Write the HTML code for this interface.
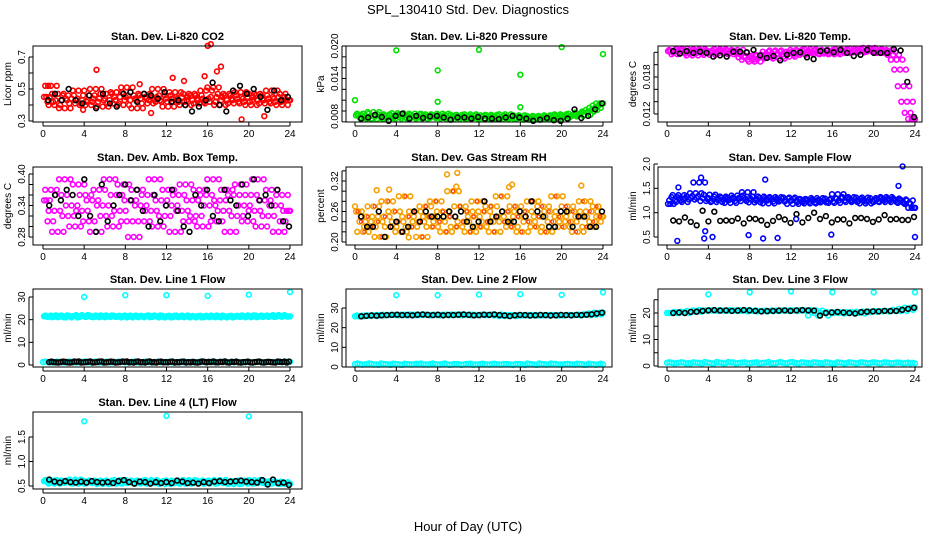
<!DOCTYPE html>
<html><head><meta charset="utf-8"><style>
body{margin:0;background:#fff}
svg{display:block;font-family:"Liberation Sans",sans-serif}
</style></head><body>
<svg id="chart" width="936" height="540" viewBox="0 0 936 540" xmlns="http://www.w3.org/2000/svg">
<rect width="936" height="540" fill="#fff"/>
<text x="468" y="14" font-size="13" text-anchor="middle">SPL_130410  Std. Dev. Diagnostics</text>
<text x="468" y="531" font-size="13" text-anchor="middle">Hour of Day (UTC)</text>
<g id="plots"></g>
</svg>
<script>
// ---- data ----
const xTicks=[0,4,8,12,16,20,24];
const co2Red=[0.45,0.42,0.52,0.40,0.47,0.43,0.38,0.46,0.44,0.41,0.49,0.43,0.40,0.46,0.42,0.50,0.44,0.39,0.47,0.43,0.41,0.48,0.45,0.40,0.51,0.43,0.46,0.38,0.44,0.47,0.41,0.45,0.43,0.50,0.42,0.46,0.39,0.44,0.48,0.42,0.45,0.40,0.47,0.43,0.46,0.41,0.44,0.49,0.42,0.51,0.45,0.40,0.47,0.43,0.46,0.41,0.44,0.48,0.42,0.45,0.40,0.47,0.43,0.46,0.41,0.44,0.49,0.42,0.45,0.40,0.47,0.43];
const co2Black=[0.43,0.47,0.43,0.50,0.43,0.41,0.46,0.38,0.47,0.41,0.39,0.47,0.48,0.42,0.47,0.46,0.44,0.48,0.42,0.43,0.40,0.36,0.39,0.43,0.54,0.40,0.36,0.49,0.52,0.47,0.50,0.45,0.37,0.49,0.43,0.45];
const co2OutX=[0.5,3.9,5.2,9.4,10.5,12.6,13.7,15.7,16.0,16.3,16.9,17.3,21.5,19.3];
const co2OutY=[0.52,0.37,0.62,0.53,0.35,0.57,0.55,0.58,0.77,0.78,0.61,0.64,0.33,0.31];
const presGreen=[0.0072,0.0068,0.0075,0.0066,0.0070,0.0078,0.0065,0.0071,0.0074,0.0067,0.0072,0.0069,0.0076,0.0066,0.0073,0.0070,0.0068,0.0075,0.0071,0.0066,0.0074,0.0069,0.0072,0.0067,0.0070,0.0075,0.0066,0.0072,0.0069,0.0073,0.0065,0.0071,0.0068,0.0074,0.0067,0.0070,0.0072,0.0065,0.0069,0.0073,0.0066,0.0071,0.0068,0.0074,0.0065,0.0070,0.0067,0.0072,0.0066,0.0069,0.0064,0.0071,0.0067,0.0070,0.0065,0.0068,0.0072,0.0066,0.0070,0.0074,0.0068,0.0072,0.0070,0.0075,0.0071,0.0077,0.0073,0.0079,0.0082,0.0086,0.0090,0.0094];
const presBlack=[0.0066,0.0068,0.0073,0.0069,0.0062,0.0071,0.0075,0.0066,0.0071,0.0067,0.0070,0.0071,0.0068,0.0064,0.0068,0.0068,0.0066,0.0069,0.0066,0.0066,0.0065,0.0068,0.0071,0.0068,0.0066,0.0062,0.0064,0.0067,0.0063,0.0062,0.0066,0.0083,0.0067,0.0071,0.0083,0.0094];
const presOutX=[0,4,8,8,12,16,16,20,24];
const presOutY=[0.0100,0.0192,0.0155,0.0097,0.0193,0.0147,0.0087,0.0198,0.0185];
const tempMag=[0.0222,0.0217,0.0224,0.0220,0.0226,0.0218,0.0223,0.0215,0.0221,0.0225,0.0219,0.0223,0.0216,0.0222,0.0220,0.0225,0.0218,0.0223,0.0221,0.0217,0.0224,0.0220,0.0212,0.0208,0.0214,0.0205,0.0210,0.0216,0.0212,0.0221,0.0218,0.0223,0.0210,0.0217,0.0221,0.0213,0.0219,0.0224,0.0216,0.0222,0.0219,0.0225,0.0217,0.0221,0.0223,0.0218,0.0224,0.0220,0.0217,0.0222,0.0225,0.0219,0.0223,0.0221,0.0226,0.0220,0.0224,0.0222,0.0227,0.0221,0.0225,0.0223,0.0219,0.0224,0.0221,0.0216,0.0208,0.0192,0.0165,0.0140,0.0122,0.0112];
const tempBlack=[0.0222,0.0218,0.0222,0.0219,0.0221,0.0219,0.0213,0.0215,0.0213,0.0221,0.0221,0.0220,0.0224,0.0215,0.0211,0.0214,0.0207,0.0216,0.0219,0.0220,0.0212,0.0209,0.0222,0.0223,0.0220,0.0224,0.0219,0.0214,0.0216,0.0224,0.0219,0.0219,0.0219,0.0225,0.0223,0.0172,0.0115];
const boxMag=[0.35,0.31,0.37,0.33,0.29,0.36,0.39,0.32,0.34,0.30,0.38,0.33,0.36,0.31,0.35,0.29,0.37,0.34,0.32,0.39,0.30,0.36,0.33,0.38,0.31,0.35,0.28,0.37,0.34,0.31,0.36,0.33,0.39,0.30,0.35,0.32,0.37,0.34,0.29,0.36,0.33,0.38,0.31,0.35,0.32,0.37,0.30,0.36,0.34,0.39,0.31,0.35,0.33,0.37,0.29,0.36,0.32,0.38,0.34,0.31,0.36,0.33,0.39,0.30,0.35,0.32,0.37,0.34,0.29,0.36,0.31,0.33];
const boxBlack=[0.34,0.36,0.35,0.37,0.36,0.32,0.39,0.32,0.29,0.38,0.31,0.34,0.36,0.38,0.35,0.37,0.33,0.30,0.36,0.31,0.34,0.37,0.33,0.30,0.29,0.36,0.34,0.37,0.32,0.31,0.37,0.35,0.34,0.38,0.32,0.39,0.35,0.36,0.34,0.37,0.31,0.30];
const rhOrange=[0.26,0.24,0.22,0.25,0.23,0.27,0.24,0.21,0.25,0.28,0.23,0.26,0.24,0.22,0.29,0.25,0.23,0.26,0.24,0.21,0.27,0.25,0.23,0.28,0.24,0.26,0.22,0.25,0.30,0.23,0.27,0.24,0.26,0.22,0.25,0.28,0.23,0.26,0.24,0.27,0.22,0.25,0.29,0.24,0.26,0.23,0.27,0.25,0.22,0.26,0.24,0.28,0.23,0.25,0.27,0.22,0.26,0.24,0.29,0.25,0.23,0.27,0.24,0.26,0.22,0.25,0.28,0.23,0.26,0.24,0.27,0.25];
const rhBlack=[0.25,0.23,0.23,0.26,0.21,0.23,0.24,0.22,0.23,0.26,0.24,0.26,0.25,0.25,0.25,0.26,0.25,0.26,0.24,0.23,0.24,0.28,0.24,0.25,0.26,0.24,0.24,0.26,0.25,0.28,0.26,0.25,0.23,0.23,0.26,0.26,0.23,0.25,0.25,0.23,0.23,0.26];
const rhOutX=[8.9,9.9,9.8,2.1,14.9,15.2,21.9,0.0,5.2,3.3];
const rhOutY=[0.333,0.336,0.309,0.302,0.308,0.313,0.311,0.27,0.209,0.303];
const flowBlue=[1.18,1.32,1.25,1.36,1.22,1.30,1.27,1.34,1.40,1.62,1.30,1.24,1.37,1.28,1.22,1.33,1.26,1.31,1.20,1.29,1.35,1.24,1.30,1.42,1.27,1.21,1.33,1.25,1.30,1.19,1.27,1.32,1.23,1.29,1.25,1.31,1.18,1.24,1.28,1.22,1.27,1.19,1.25,1.30,1.21,1.26,1.23,1.29,1.20,1.38,1.30,1.25,1.32,1.22,1.28,1.24,1.31,1.19,1.26,1.23,1.30,1.22,1.27,1.32,1.25,1.29,1.22,1.27,1.20,1.25,1.18,1.10];
const flowBlack=[0.84,0.82,0.90,0.81,0.74,1.04,0.82,1.02,0.83,0.84,0.83,0.88,0.78,0.88,0.87,0.84,0.75,0.83,0.91,0.86,0.79,0.97,0.80,0.89,1.00,0.87,0.93,0.80,0.86,0.86,0.78,0.89,0.89,0.87,0.81,0.86,0.95,0.86,0.87,0.85,0.85,0.91];
const flowOutX=[1.0,1.1,3.3,3.6,3.7,4.4,9.3,9.5,10.7,7.9,15.9,22.8,22.4,24.0,12.5];
const flowOutY=[0.42,1.52,1.72,0.47,0.62,0.50,0.47,1.68,0.48,0.54,0.55,1.95,1.55,0.50,0.87];
const l1Cyan=[21.5,21.2,21.8,21.4,21.1,21.9,21.3,21.6,21.0,21.7,21.4,22.0,21.2,21.6,21.3,21.8,21.1,21.5,21.9,21.3,21.6,21.2,21.7,21.4,21.0,21.8,21.5,21.3,21.7,21.1,21.6,21.4,21.9,21.2,21.5,21.0,21.7,21.3,21.6,21.1,21.8,21.4,21.2,21.6,21.0,21.5,21.3,21.7,21.1,21.4,21.8,21.2,21.6,21.0,21.5,21.3,21.7,21.2,21.4,21.9,21.1,21.6,21.3,21.8,21.5,21.2,21.7,21.4,22.0,21.3,21.6,21.5];
const l1Low=[1.3,1.2,1.5,1.1,1.4,1.2,1.6,1.3,1.1,1.5,1.2,1.4,1.3,1.6,1.1,1.2,1.4,1.3,1.5,1.2,1.1,1.4,1.3,1.2,1.6,1.4,1.2,1.3,1.1,1.5,1.3,1.2,1.4,1.1,1.3,1.5];
const l1OutY=[30.0,30.8,30.8,30.5,31.0,32.2];
const outX=[4,8,12,16,20,24];
const l2Main=[25.8,26.0,26.2,26.1,26.3,26.4,26.5,26.6,26.4,26.5,26.3,26.6,26.7,26.5,26.4,26.6,26.3,26.5,26.4,26.6,26.7,26.5,26.3,26.4,26.6,26.5,26.7,26.4,26.2,25.9,26.3,26.5,26.4,26.2,26.3,26.5,26.4,26.2,26.3,26.5,26.4,26.3,26.5,26.4,26.6,26.8,27.2,27.6];
const l2Low=[1.5,1.2,1.8,1.3,1.6,1.1,1.4,1.7,1.2,1.5,1.3,1.8,1.2,1.4,1.6,1.1,1.5,1.3,1.7,1.2,1.4,1.6,1.3,1.5,1.1,1.4,1.8,1.2,1.5,1.3,1.6,1.2,1.4,1.7,1.1,1.3];
const l2OutY=[36.5,36.5,36.8,37.0,36.7,38.0];
const l3Main=[20.0,20.2,20.0,20.4,20.5,20.8,21.0,21.1,20.9,21.0,20.8,20.9,21.1,21.0,20.8,20.6,20.7,20.8,20.9,21.0,20.8,21.0,21.1,21.0,20.9,19.0,20.0,20.2,20.4,20.2,20.0,19.8,20.3,20.5,20.6,20.6,20.8,20.7,20.8,21.2,21.6,22.0];
const l3Low=[1.2,1.0,1.4,1.1,1.3,0.9,1.2,1.5,1.0,1.3,1.1,1.4,1.2,0.9,1.3,1.1,1.5,1.0,1.2,1.4,1.1,1.3,0.9,1.2,1.4,1.0,1.3,1.1,1.2,1.4,1.0,1.3,1.1,1.2,1.3,1.0];
const l3OutY=[27.0,27.8,28.2,27.8,27.8,27.8];
const l4Cyan=[0.60,0.57,0.62,0.55,0.59,0.61,0.56,0.60,0.58,0.63,0.55,0.59,0.57,0.61,0.56,0.60,0.58,0.54,0.61,0.57,0.59,0.55,0.62,0.58,0.56,0.60,0.57,0.61,0.55,0.59,0.58,0.62,0.56,0.60,0.57,0.54,0.59,0.61,0.56,0.58,0.60,0.55,0.62,0.57,0.59,0.56,0.61,0.58,0.55,0.60,0.57,0.62,0.56,0.59,0.58,0.54,0.60,0.57,0.61,0.55,0.59,0.62,0.56,0.58,0.60,0.57,0.55,0.59,0.56,0.58,0.54,0.55];
const l4Black=[0.63,0.59,0.57,0.60,0.58,0.57,0.59,0.57,0.60,0.58,0.57,0.58,0.56,0.60,0.62,0.58,0.55,0.59,0.58,0.55,0.58,0.56,0.58,0.56,0.61,0.59,0.56,0.57,0.55,0.58,0.56,0.59,0.60,0.58,0.59,0.60,0.61,0.59,0.58,0.57,0.62,0.53,0.63,0.56,0.57,0.52];
const l4OutX=[4,12,20];
const l4OutY=[1.82,1.93,1.92];

// ---- drawing ----
const NS="http://www.w3.org/2000/svg";
const root=document.getElementById('plots');
function mk(tag,attrs,parent){const e=document.createElementNS(NS,tag);for(const k in attrs)e.setAttribute(k,attrs[k]);(parent||root).appendChild(e);return e;}
function evenHours(n,start,end){const a=[];for(let i=0;i<n;i++)a.push(start+(end-start)*i/(n-1));return a;}

function panel(p){
  const g=mk('g',{});
  
  
  const X=h=>p.x0+(p.x24-p.x0)*h/24;
  const Y=v=>p.ya[1]+(v-p.ya[0])*(p.yb[1]-p.ya[1])/(p.yb[0]-p.ya[0]);
  const t=mk('text',{x:(p.L+p.R)/2,y:p.T-6,'font-size':11,'font-weight':'bold','text-anchor':'middle'},g);
  t.textContent=p.title;
  
  
  const cg=mk('g',{},g);
  p.series.forEach(s=>{
    const st=s.start??0.1, en=s.end??23.9;
    const layers=[];
    if(s.xs){layers.push([s.xs,s.ys]);}
    else{
      const n=s.ys.length, step=(en-st)/(n-1);
      const xs0=evenHours(n,st,en);
      layers.push([xs0,s.ys]);
      if(s.dense){
        // neighbouring samples re-plotted between grid points to thicken the band
        const cl=i=>s.ys[Math.max(0,Math.min(n-1,i))];
        layers.push([xs0.map(x=>x+step/3),s.ys.map((_,i)=>cl(i+2))]);
        layers.push([xs0.map(x=>x+2*step/3),s.ys.map((_,i)=>cl(i-1))]);
      }
    }
    layers.forEach(([xs,ys])=>ys.forEach((v,i)=>{
      if(xs[i]>24.05)return;
      const c=mk('circle',{cx:X(xs[i]).toFixed(1),cy:Y(v).toFixed(1),r:s.r||2.4,fill:'none',stroke:s.color,'stroke-width':s.sw||1.6},cg);
      
      
    }));
  });
  const box=mk('rect',{x:p.L,y:p.T,width:p.R-p.L,height:p.B-p.T,fill:'none',stroke:'#000','stroke-width':1},g);
  
  
  xTicks.forEach(h=>{
    mk('line',{x1:X(h),x2:X(h),y1:p.B,y2:p.B+4,stroke:'#000'},g);
    const tx=mk('text',{x:X(h),y:p.B+15,'font-size':10,'text-anchor':'middle'},g);tx.textContent=h;
    
    
  });
  mk('line',{x1:X(0),x2:X(24),y1:p.B+4,y2:p.B+4,stroke:'#000'},g);
  p.yt.forEach(v=>mk('line',{x1:p.L-4,x2:p.L,y1:Y(v),y2:Y(v),stroke:'#000'},g));
  mk('line',{x1:p.L-4,x2:p.L-4,y1:Y(p.yt[0]),y2:Y(p.yt[p.yt.length-1]),stroke:'#000'},g);
  p.yl.forEach((v,i)=>{const y=Y(v);const tx=mk('text',{x:p.L-8,y:y,'font-size':10,'text-anchor':'middle',transform:`rotate(-90 ${p.L-8} ${y})`},g);tx.textContent=p.ylt[i];
    
    });
  const yc=(p.T+p.B)/2;const ya=mk('text',{x:p.L-22,y:yc,'font-size':10,'text-anchor':'middle',transform:`rotate(-90 ${p.L-22} ${yc})`},g);ya.textContent=p.ylab;
  
  
}
const C1={L:33,R:302,x0:43,x24:290},C2={L:346,R:612,x0:355,x24:603},C3={L:658,R:922,x0:667,x24:915};
const R1={T:46,B:122},R2={T:167,B:245},R3={T:289,B:367},R4={T:412,B:489};
const cy='#00ffff';
panel({...C1,...R1,name:'panel-co2',title:'Stan. Dev. Li-820 CO2',ylab:'Licor ppm',ya:[0.3,121],yb:[0.7,57],yt:[0.3,0.4,0.5,0.6,0.7],yl:[0.3,0.5,0.7],ylt:['0.3','0.5','0.7'],
 series:[{ys:co2Red,color:'#ff0000',label:'co2',dense:true},{xs:co2OutX,ys:co2OutY,color:'#ff0000',label:'co2-outlier'},{ys:co2Black,color:'#000',label:'co2-mean',start:0.5,end:23.8}]});
panel({...C2,...R1,name:'panel-pressure',title:'Stan. Dev. Li-820 Pressure',ylab:'kPa',ya:[0.008,111],yb:[0.020,46],yt:[0.006,0.008,0.010,0.012,0.014,0.016,0.018,0.020],yl:[0.007,0.014,0.020],ylt:['0.008','0.014','0.020'],
 series:[{ys:presGreen,color:'#00e000',label:'pressure',dense:true},{xs:presOutX,ys:presOutY,color:'#00e000',label:'pressure-outlier'},{ys:presBlack,color:'#000',label:'pressure-mean',start:0.6,end:23.9}]});
panel({...C3,...R1,name:'panel-temp',title:'Stan. Dev. Li-820 Temp.',ylab:'degrees C',ya:[0.012,114],yb:[0.018,77],yt:[0.012,0.014,0.016,0.018,0.020,0.022],yl:[0.012,0.018],ylt:['0.012','0.018'],
 series:[{ys:tempMag,color:'#ff00ff',label:'temp',dense:true},{ys:tempBlack,color:'#000',label:'temp-mean',start:0.6,end:23.9}]});
panel({...C1,...R2,name:'panel-box-temp',title:'Stan. Dev. Amb. Box Temp.',ylab:'degrees C',ya:[0.28,237],yb:[0.40,174],yt:[0.28,0.30,0.32,0.34,0.36,0.38,0.40],yl:[0.28,0.34,0.40],ylt:['0.28','0.34','0.40'],
 series:[{ys:boxMag,color:'#ff00ff',label:'box-temp',dense:true},{ys:boxBlack,color:'#000',label:'box-temp-mean',start:0.6,end:23.9}]});
panel({...C2,...R2,name:'panel-rh',title:'Stan. Dev. Gas Stream RH',ylab:'percent',ya:[0.20,242],yb:[0.32,181],yt:[0.20,0.22,0.24,0.26,0.28,0.30,0.32,0.34],yl:[0.20,0.26,0.32],ylt:['0.20','0.26','0.32'],
 series:[{ys:rhOrange,color:'#f5a000',label:'rh',dense:true},{ys:rhOrange,color:'#ff3000',label:'rh-red',start:0.25,end:23.7,r:1.6,sw:1},{xs:rhOutX,ys:rhOutY,color:'#f5a000',label:'rh-outlier'},{ys:rhBlack,color:'#000',label:'rh-mean',start:0.6,end:23.9}]});
panel({...C3,...R2,name:'panel-sample-flow',title:'Stan. Dev. Sample Flow',ylab:'ml/min',ya:[0.5,237],yb:[2.0,164],yt:[0.5,1.0,1.5,2.0],yl:[0.5,1.0,1.5,2.0],ylt:['0.5','1.0','1.5','2.0'],
 series:[{ys:flowBlue,color:'#0000ff',label:'sample-flow',dense:true},{xs:flowOutX,ys:flowOutY,color:'#0000ff',label:'sample-flow-outlier'},{ys:flowBlack,color:'#000',label:'sample-flow-mean',start:0.6,end:23.9}]});
panel({...C1,...R3,name:'panel-line1',title:'Stan. Dev. Line 1 Flow',ylab:'ml/min',ya:[0,365],yb:[30,297],yt:[0,10,20,30],yl:[0,10,20,30],ylt:['0','10','20','30'],
 series:[{ys:l1Cyan,color:cy,label:'line1',dense:true},{ys:l1Low,color:cy,label:'line1-low',start:0,end:24,dense:true},{xs:outX,ys:l1OutY,color:cy,label:'line1-outlier'},{ys:l1Low,color:'#000',label:'line1-mean',start:0.6,end:23.9,dense:true}]});
panel({...C2,...R3,name:'panel-line2',title:'Stan. Dev. Line 2 Flow',ylab:'ml/min',ya:[0,367],yb:[30,308],yt:[0,10,20,30],yl:[0,10,20,30],ylt:['0','10','20','30'],
 series:[{ys:l2Main,color:cy,label:'line2',start:0,end:24,dense:true},{ys:l2Low,color:cy,label:'line2-low',start:0,end:24,dense:true},{xs:outX,ys:l2OutY,color:cy,label:'line2-outlier'},{ys:l2Main,color:'#000',label:'line2-mean',start:0.6,end:23.9}]});
panel({...C3,...R3,name:'panel-line3',title:'Stan. Dev. Line 3 Flow',ylab:'ml/min',ya:[0,366],yb:[20,313],yt:[0,5,10,15,20,25],yl:[0,10,20],ylt:['0','10','20'],
 series:[{ys:l3Main,color:cy,label:'line3',start:0,end:24,dense:true},{ys:l3Low,color:cy,label:'line3-low',start:0,end:24,dense:true},{xs:outX,ys:l3OutY,color:cy,label:'line3-outlier'},{ys:l3Main,color:'#000',label:'line3-mean',start:0.6,end:23.9}]});
panel({...C1,...R4,name:'panel-line4',title:'Stan. Dev. Line 4 (LT) Flow',ylab:'ml/min',ya:[0.5,486],yb:[1.5,437],yt:[0.5,1.0,1.5],yl:[0.5,1.0,1.5],ylt:['0.5','1.0','1.5'],
 series:[{ys:l4Cyan,color:cy,label:'line4',dense:true},{xs:l4OutX,ys:l4OutY,color:cy,label:'line4-outlier'},{ys:l4Black,color:'#000',label:'line4-mean',start:0.6,end:23.9}]});
</script>
</body></html>
